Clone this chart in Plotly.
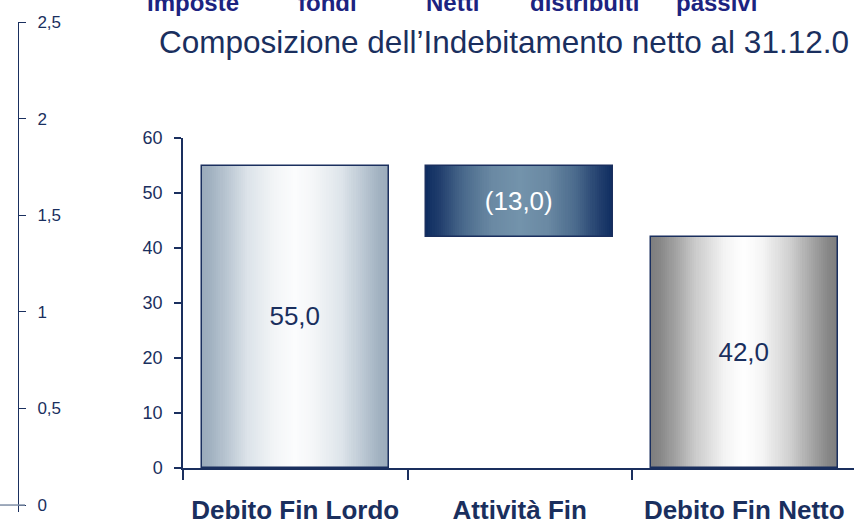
import plotly.graph_objects as go

# ---------------- data ----------------
categories = ["Debito Fin Lordo", "Attività Fin", "Debito Fin Netto"]
values = [55.0, -13.0, 42.0]
measures = ["absolute", "relative", "total"]
value_labels = ["55,0", "(13,0)", "42,0"]
y_ticks = [0, 10, 20, 30, 40, 50, 60]
left_ticks = [0, 0.5, 1, 1.5, 2, 2.5]
left_tick_labels = ["0", "0,5", "1", "1,5", "2", "2,5"]
header_words = ["Imposte", "fondi", "Netti", "distribuiti", "passivi"]
title_text = "Composizione dell\u2019Indebitamento netto al 31.12.0"

# ---------------- styles ----------------
W, H = 854, 530
NAVY = "#1a2f5e"
SANS = "Liberation Sans, Arial, sans-serif"

header_x_px = [193, 327, 452, 584, 716]

# gradient profiles: t = distance from bar centre (0) to edge (1)
profiles = [
    [(0.0, "#fbfcfd"), (0.2, "#f4f6f8"), (0.5, "#dde4ea"), (0.75, "#b7c4d0"), (0.9, "#a2b2c1"), (1.0, "#9aaaba")],
    [(0.0, "#7393ab"), (0.3, "#6a89a3"), (0.6, "#4a6a8c"), (0.85, "#223f6e"), (1.0, "#0e2c60")],
    [(0.0, "#ffffff"), (0.2, "#f4f4f4"), (0.5, "#cecece"), (0.75, "#a0a0a0"), (0.9, "#878787"), (1.0, "#7e7e7e")],
]
text_colors = [NAVY, "#ffffff", NAVY]


def hex2rgb(h):
    h = h.lstrip("#")
    return [int(h[i:i + 2], 16) for i in (0, 2, 4)]


def interp(profile, t):
    for (t0, c0), (t1, c1) in zip(profile[:-1], profile[1:]):
        if t <= t1:
            f = 0 if t1 == t0 else (t - t0) / (t1 - t0)
            a, b = hex2rgb(c0), hex2rgb(c1)
            r = [round(a[i] + (b[i] - a[i]) * f) for i in range(3)]
            return "rgb(%d,%d,%d)" % tuple(r)
    return profile[-1][1]


# waterfall bases / heights derived from values
bases, heights = [], []
running = 0.0
for v, m in zip(values, measures):
    if m == "absolute":
        bases.append(0.0); heights.append(v); running = v
    elif m == "relative":
        new = running + v
        bases.append(min(running, new)); heights.append(abs(v)); running = new
    else:
        bases.append(0.0); heights.append(running)

fig = go.Figure()

BAR_W = 0.833
N = 45
for k in range(N):
    frac = 1 - k / N
    t_mid = max(frac - 0.5 / N, 0)
    fig.add_trace(go.Bar(
        x=categories, y=heights, base=bases,
        width=[BAR_W * frac] * len(categories),
        marker=dict(color=[interp(p, t_mid) for p in profiles], line=dict(width=0)),
        hoverinfo="skip", showlegend=False,
    ))

# outline + labels
fig.add_trace(go.Bar(
    x=categories, y=heights, base=bases,
    width=[BAR_W] * len(categories),
    marker=dict(color="rgba(0,0,0,0)", line=dict(color=NAVY, width=1.5)),
    text=value_labels, textposition="inside", insidetextanchor="middle",
    textfont=dict(family=SANS, size=26, color=text_colors),
    constraintext="none", cliponaxis=False,
    showlegend=False, hoverinfo="skip",
))

# holder for the stray left axis
fig.add_trace(go.Scatter(x=[None], y=[None], xaxis="x2", yaxis="y2",
                         showlegend=False, hoverinfo="skip"))

x0 = 183 / W
span = (W - 183) / 224.5

fig.update_layout(
    width=W, height=H,
    margin=dict(l=0, r=0, t=0, b=0, autoexpand=False),
    paper_bgcolor="white", plot_bgcolor="white",
    barmode="overlay", bargap=0,
    separators=",.",
    showlegend=False,
    xaxis=dict(
        domain=[x0, 1], type="category",
        categoryorder="array", categoryarray=categories,
        range=[-0.5, -0.5 + span],
        showline=True, linecolor=NAVY, linewidth=1.5,
        ticks="outside", tickson="boundaries", ticklen=10, tickcolor=NAVY, tickwidth=1.5,
        tickfont=dict(family=SANS, size=26, color=NAVY, weight="bold"),
        tickangle=0, ticklabelstandoff=18, automargin=False,
        showgrid=False, zeroline=False, fixedrange=True,
    ),
    yaxis=dict(
        domain=[(H - 468) / H, (H - 138) / H],
        range=[0, 60], tickvals=y_ticks,
        showline=True, linecolor=NAVY, linewidth=1.5,
        ticks="outside", ticklen=7, tickcolor=NAVY, tickwidth=1.5,
        tickfont=dict(family=SANS, size=18, color=NAVY),
        ticklabelstandoff=8, automargin=False,
        showgrid=False, zeroline=False, fixedrange=True,
    ),
    xaxis2=dict(domain=[18 / W, 30 / W], anchor="y2", visible=False, range=[0, 1]),
    yaxis2=dict(
        anchor="free", position=18 / W, side="right",
        domain=[(H - 512) / H, (H - 22) / H],
        range=[-0.036, 2.5],
        tickvals=left_ticks, ticktext=left_tick_labels,
        showline=True, linecolor=NAVY, linewidth=1,
        ticks="outside", ticklen=7, tickcolor=NAVY, tickwidth=1,
        tickfont=dict(family=SANS, size=17, color=NAVY),
        ticklabelstandoff=8, automargin=False,
        showgrid=False, zeroline=False, fixedrange=True,
    ),
)

fig.add_shape(type="line", xref="paper", yref="y2", x0=0, x1=25 / W, y0=0, y1=0,
              line=dict(color="#7f8fa6", width=1.5))

# title
fig.add_annotation(text=title_text, xref="paper", yref="paper",
                   x=157 / W, y=1 - 42 / H, xanchor="left", yanchor="middle",
                   showarrow=False, font=dict(family=SANS, size=31.5, color=NAVY))

# cut-off header words at the very top
for wd, px in zip(header_words, header_x_px):
    fig.add_annotation(text="<b>%s</b>" % wd, xref="paper", yref="paper",
                       x=px / W, y=1 - 2 / H, xanchor="center", yanchor="middle",
                       showarrow=False, font=dict(family=SANS, size=24, color="#1c2380"))

fig.write_html("out.html", config={"displayModeBar": False},
               post_script="document.body.style.margin='0px';")
